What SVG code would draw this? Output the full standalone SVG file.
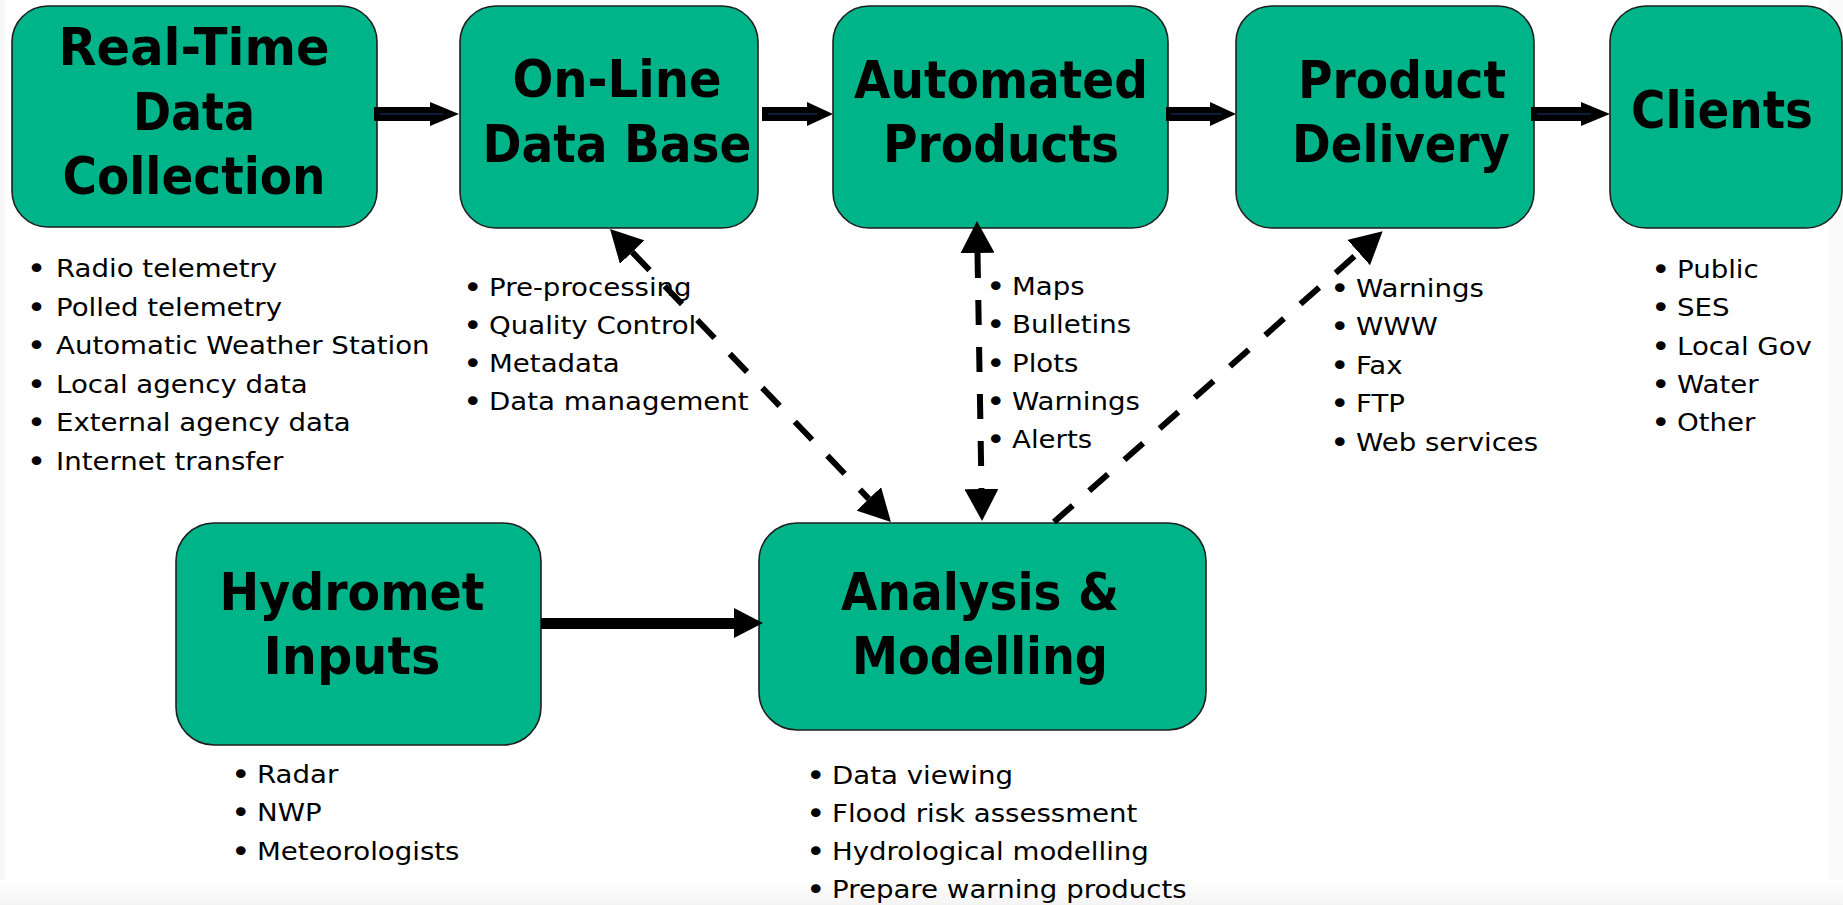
<svg xmlns="http://www.w3.org/2000/svg" width="1843" height="905" viewBox="0 0 1843 905">
<defs>
<style>
.box{fill:#00b48a;stroke:#1e1e1e;stroke-width:1.6}
.title{font-family:"DejaVu Sans","Liberation Sans",sans-serif;font-weight:bold;font-size:52px;fill:#000;text-anchor:middle}
.item{font-family:"DejaVu Sans","Liberation Sans",sans-serif;font-size:25px;fill:#000}
.b{font-size:30px}
.dash{fill:none;stroke:#000;stroke-width:6;stroke-dasharray:25 22}
.block{fill:#000}
.inner{stroke:#143a78;stroke-width:1}
</style>
<marker id="head" markerUnits="userSpaceOnUse" markerWidth="32" markerHeight="34" viewBox="0 0 32 34" refX="0" refY="17" orient="auto-start-reverse">
<path d="M0,0 L32,17 L0,34 z" fill="#000"/>
</marker>
<linearGradient id="bot" x1="0" y1="0" x2="0" y2="1">
<stop offset="0" stop-color="#ffffff"/>
<stop offset="1" stop-color="#f4f4f4"/>
</linearGradient>
</defs>
<rect x="0" y="0" width="1843" height="905" fill="#ffffff"/>
<rect x="0" y="0" width="5" height="905" fill="#f6f6f6"/>
<rect x="1828" y="0" width="15" height="905" fill="#fafafa"/>
<rect x="0" y="880" width="1843" height="25" fill="url(#bot)"/>

<g id="realtime">
<rect class="box" x="12" y="6" width="365" height="221" rx="36"/>
<text class="title" x="194" y="65" textLength="271" lengthAdjust="spacingAndGlyphs">Real-Time</text>
<text class="title" x="194" y="130" textLength="122" lengthAdjust="spacingAndGlyphs">Data</text>
<text class="title" x="194" y="194" textLength="263" lengthAdjust="spacingAndGlyphs">Collection</text>
<g class="item" transform="translate(56 0) scale(1.105 1)">
<text y="277"><tspan class="b" x="-26.5" dy="2">•</tspan><tspan x="0" dy="-2">Radio telemetry</tspan></text>
<text y="315.6"><tspan class="b" x="-26.5" dy="2">•</tspan><tspan x="0" dy="-2">Polled telemetry</tspan></text>
<text y="354.2"><tspan class="b" x="-26.5" dy="2">•</tspan><tspan x="0" dy="-2">Automatic Weather Station</tspan></text>
<text y="392.8"><tspan class="b" x="-26.5" dy="2">•</tspan><tspan x="0" dy="-2">Local agency data</tspan></text>
<text y="431.4"><tspan class="b" x="-26.5" dy="2">•</tspan><tspan x="0" dy="-2">External agency data</tspan></text>
<text y="470"><tspan class="b" x="-26.5" dy="2">•</tspan><tspan x="0" dy="-2">Internet transfer</tspan></text>
</g>
</g>

<g id="online">
<rect class="box" x="460" y="6" width="298" height="222" rx="36"/>
<text class="title" x="617" y="97" textLength="209" lengthAdjust="spacingAndGlyphs">On-Line</text>
<text class="title" x="617" y="162" textLength="269" lengthAdjust="spacingAndGlyphs">Data Base</text>
<g class="item" transform="translate(489 0) scale(1.105 1)">
<text y="296"><tspan class="b" x="-23.5" dy="2">•</tspan><tspan x="0" dy="-2">Pre-processing</tspan></text>
<text y="334"><tspan class="b" x="-23.5" dy="2">•</tspan><tspan x="0" dy="-2">Quality Control</tspan></text>
<text y="372"><tspan class="b" x="-23.5" dy="2">•</tspan><tspan x="0" dy="-2">Metadata</tspan></text>
<text y="410"><tspan class="b" x="-23.5" dy="2">•</tspan><tspan x="0" dy="-2">Data management</tspan></text>
</g>
</g>

<g id="automated">
<rect class="box" x="833" y="6" width="335" height="222" rx="36"/>
<text class="title" x="1001" y="98" textLength="294" lengthAdjust="spacingAndGlyphs">Automated</text>
<text class="title" x="1001" y="162" textLength="236" lengthAdjust="spacingAndGlyphs">Products</text>
<g class="item" transform="translate(1012 0) scale(1.105 1)">
<text y="295"><tspan class="b" x="-23.5" dy="2">•</tspan><tspan x="0" dy="-2">Maps</tspan></text>
<text y="333.3"><tspan class="b" x="-23.5" dy="2">•</tspan><tspan x="0" dy="-2">Bulletins</tspan></text>
<text y="371.6"><tspan class="b" x="-23.5" dy="2">•</tspan><tspan x="0" dy="-2">Plots</tspan></text>
<text y="409.9"><tspan class="b" x="-23.5" dy="2">•</tspan><tspan x="0" dy="-2">Warnings</tspan></text>
<text y="448.2"><tspan class="b" x="-23.5" dy="2">•</tspan><tspan x="0" dy="-2">Alerts</tspan></text>
</g>
</g>

<g id="delivery">
<rect class="box" x="1236" y="6" width="298" height="222" rx="36"/>
<text class="title" x="1402" y="98" textLength="208" lengthAdjust="spacingAndGlyphs">Product</text>
<text class="title" x="1401" y="162" textLength="218" lengthAdjust="spacingAndGlyphs">Delivery</text>
<g class="item" transform="translate(1356 0) scale(1.105 1)">
<text y="297"><tspan class="b" x="-23.5" dy="2">•</tspan><tspan x="0" dy="-2">Warnings</tspan></text>
<text y="335.5"><tspan class="b" x="-23.5" dy="2">•</tspan><tspan x="0" dy="-2">WWW</tspan></text>
<text y="374"><tspan class="b" x="-23.5" dy="2">•</tspan><tspan x="0" dy="-2">Fax</tspan></text>
<text y="412.5"><tspan class="b" x="-23.5" dy="2">•</tspan><tspan x="0" dy="-2">FTP</tspan></text>
<text y="451"><tspan class="b" x="-23.5" dy="2">•</tspan><tspan x="0" dy="-2">Web services</tspan></text>
</g>
</g>

<g id="clients">
<rect class="box" x="1610" y="6" width="232" height="222" rx="36"/>
<text class="title" x="1722" y="128" textLength="182" lengthAdjust="spacingAndGlyphs">Clients</text>
<g class="item" transform="translate(1677 0) scale(1.105 1)">
<text y="278"><tspan class="b" x="-23.5" dy="2">•</tspan><tspan x="0" dy="-2">Public</tspan></text>
<text y="316.3"><tspan class="b" x="-23.5" dy="2">•</tspan><tspan x="0" dy="-2">SES</tspan></text>
<text y="354.6"><tspan class="b" x="-23.5" dy="2">•</tspan><tspan x="0" dy="-2">Local Gov</tspan></text>
<text y="392.9"><tspan class="b" x="-23.5" dy="2">•</tspan><tspan x="0" dy="-2">Water</tspan></text>
<text y="431.2"><tspan class="b" x="-23.5" dy="2">•</tspan><tspan x="0" dy="-2">Other</tspan></text>
</g>
</g>

<g id="hydromet">
<rect class="box" x="176" y="523" width="365" height="222" rx="38"/>
<text class="title" x="352" y="610" textLength="265" lengthAdjust="spacingAndGlyphs">Hydromet</text>
<text class="title" x="352" y="674" textLength="177" lengthAdjust="spacingAndGlyphs">Inputs</text>
<g class="item" transform="translate(257 0) scale(1.105 1)">
<text y="783"><tspan class="b" x="-23.5" dy="2">•</tspan><tspan x="0" dy="-2">Radar</tspan></text>
<text y="821.5"><tspan class="b" x="-23.5" dy="2">•</tspan><tspan x="0" dy="-2">NWP</tspan></text>
<text y="860"><tspan class="b" x="-23.5" dy="2">•</tspan><tspan x="0" dy="-2">Meteorologists</tspan></text>
</g>
</g>

<g id="analysis">
<rect class="box" x="759" y="523" width="447" height="207" rx="38"/>
<text class="title" x="980" y="610" textLength="278" lengthAdjust="spacingAndGlyphs">Analysis &amp;</text>
<text class="title" x="980" y="674" textLength="256" lengthAdjust="spacingAndGlyphs">Modelling</text>
<g class="item" transform="translate(832 0) scale(1.105 1)">
<text y="784"><tspan class="b" x="-23.5" dy="2">•</tspan><tspan x="0" dy="-2">Data viewing</tspan></text>
<text y="822"><tspan class="b" x="-23.5" dy="2">•</tspan><tspan x="0" dy="-2">Flood risk assessment</tspan></text>
<text y="860"><tspan class="b" x="-23.5" dy="2">•</tspan><tspan x="0" dy="-2">Hydrological modelling</tspan></text>
<text y="898"><tspan class="b" x="-23.5" dy="2">•</tspan><tspan x="0" dy="-2">Prepare warning products</tspan></text>
</g>
</g>

<g id="connectors">
<polygon class="block" points="374,107 430,107 430,102 459,114 430,126 430,121 374,121"/>
<line class="inner" x1="380" y1="114" x2="443" y2="114"/>
<polygon class="block" points="762,107 807,107 807,102 833,114 807,126 807,121 762,121"/>
<line class="inner" x1="768" y1="114" x2="817" y2="114"/>
<polygon class="block" points="1166,107 1210,107 1210,102 1236,114 1210,126 1210,121 1166,121"/>
<line class="inner" x1="1171" y1="114" x2="1221" y2="114"/>
<polygon class="block" points="1531,107 1581,107 1581,102 1610,114 1581,126 1581,121 1531,121"/>
<line class="inner" x1="1537" y1="114" x2="1591" y2="114"/>
<polygon class="block" points="541,618 734,618 734,608 763,623 734,638 734,629 541,629"/>
<line class="dash" x1="632.2" y1="252.1" x2="868.8" y2="498.9" marker-start="url(#head)" marker-end="url(#head)"/>
<line class="dash" x1="977.5" y1="253" x2="981.5" y2="489" marker-start="url(#head)" marker-end="url(#head)"/>
<line class="dash" x1="1054" y1="522" x2="1358.7" y2="252.5" marker-end="url(#head)"/>
</g>
</svg>
